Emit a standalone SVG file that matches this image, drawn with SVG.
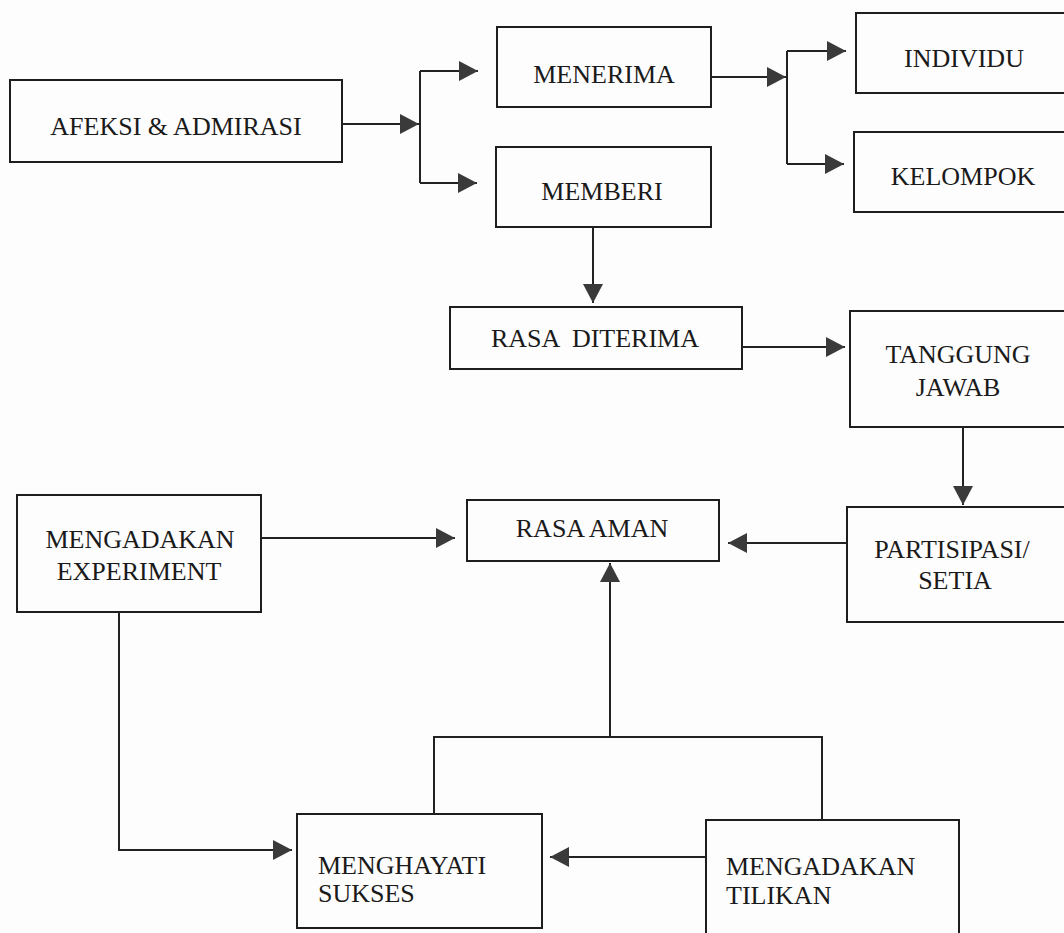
<svg xmlns="http://www.w3.org/2000/svg" width="1064" height="933" viewBox="0 0 1064 933">
<defs>
<marker id="ah" markerUnits="userSpaceOnUse" markerWidth="20" markerHeight="20" refX="19" refY="10" orient="auto">
<path d="M0,0 L19,10 L0,20 Z" fill="#3a3a3a"/>
</marker>
<style>
.box{fill:none;stroke:#1e1e1e;stroke-width:2}
.t{font-family:"Liberation Serif","Times New Roman",serif;font-size:26px;fill:#1a1a1a;text-anchor:middle}
.tl{font-family:"Liberation Serif","Times New Roman",serif;font-size:26px;fill:#1a1a1a;text-anchor:start}
.c{fill:none;stroke:#222;stroke-width:2}
.ca{fill:none;stroke:#222;stroke-width:2;marker-end:url(#ah)}
</style>
</defs>
<rect x="0" y="0" width="1064" height="933" fill="#fdfdfd"/>
<g id="afeksi"><rect class="box" x="10" y="80" width="332" height="82"/><text class="t" x="176" y="135">AFEKSI &amp; ADMIRASI</text></g>
<g id="menerima"><rect class="box" x="497" y="27" width="214" height="80"/><text class="t" x="604" y="83">MENERIMA</text></g>
<g id="memberi"><rect class="box" x="496" y="147" width="215" height="80"/><text class="t" x="602" y="200">MEMBERI</text></g>
<g id="individu"><rect class="box" x="856" y="13" width="220" height="80"/><text class="t" x="964" y="67">INDIVIDU</text></g>
<g id="kelompok"><rect class="box" x="854" y="132" width="222" height="80"/><text class="t" x="963" y="185">KELOMPOK</text></g>
<g id="rasa-diterima"><rect class="box" x="450" y="307" width="292" height="62"/><text class="t" x="595" y="347" xml:space="preserve" style="white-space:pre">RASA  DITERIMA</text></g>
<g id="tanggung-jawab"><rect class="box" x="850" y="311" width="226" height="116"/><text class="t" x="958" y="363">TANGGUNG</text><text class="t" x="958" y="396">JAWAB</text></g>
<g id="partisipasi"><rect class="box" x="847" y="507" width="229" height="115"/><text class="t" x="952" y="558">PARTISIPASI/</text><text class="t" x="955" y="589">SETIA</text></g>
<g id="rasa-aman"><rect class="box" x="467" y="500" width="252" height="61"/><text class="t" x="592" y="537">RASA AMAN</text></g>
<g id="experiment"><rect class="box" x="17" y="495" width="244" height="117"/><text class="t" x="140" y="548">MENGADAKAN</text><text class="t" x="139" y="580">EXPERIMENT</text></g>
<g id="menghayati"><rect class="box" x="297" y="814" width="245" height="114"/><text class="tl" x="318" y="874">MENGHAYATI</text><text class="tl" x="318" y="902">SUKSES</text></g>
<g id="tilikan"><rect class="box" x="706" y="820" width="253" height="125"/><text class="tl" x="726" y="875">MENGADAKAN</text><text class="tl" x="726" y="904">TILIKAN</text></g>
<g id="connectors">
<line class="ca" x1="342" y1="124" x2="419" y2="124"/>
<line class="c" x1="420" y1="71" x2="420" y2="183"/>
<line class="ca" x1="420" y1="71" x2="478" y2="71"/>
<line class="ca" x1="420" y1="183" x2="477" y2="183"/>
<line class="ca" x1="711" y1="77" x2="786" y2="77"/>
<line class="c" x1="787" y1="51" x2="787" y2="164"/>
<line class="ca" x1="787" y1="51" x2="846" y2="51"/>
<line class="ca" x1="787" y1="164" x2="844" y2="164"/>
<line class="ca" x1="593" y1="227" x2="593" y2="303"/>
<line class="ca" x1="742" y1="347" x2="845" y2="347"/>
<line class="ca" x1="963" y1="427" x2="963" y2="505"/>
<line class="ca" x1="847" y1="543" x2="728" y2="543"/>
<line class="ca" x1="261" y1="538" x2="455" y2="538"/>
<path class="c" d="M434,814 V737 H822 V820"/>
<line class="ca" x1="610" y1="737" x2="610" y2="563"/>
<path class="ca" d="M119,612 V850 H292"/>
<line class="ca" x1="706" y1="857" x2="550" y2="857"/>
</g>
</svg>
